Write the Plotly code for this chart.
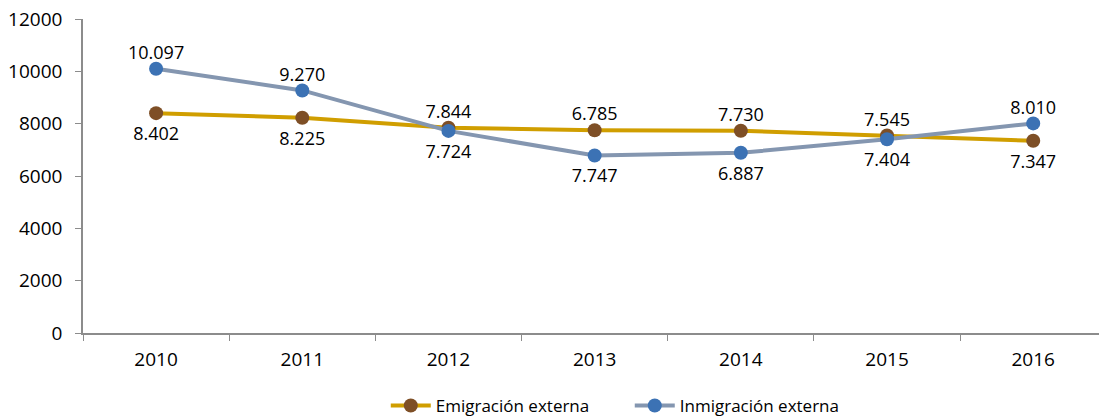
import plotly.graph_objects as go

years = ["2010", "2011", "2012", "2013", "2014", "2015", "2016"]
emigracion = [8402, 8225, 7844, 7747, 7730, 7545, 7347]
inmigracion = [10097, 9270, 7724, 6785, 6887, 7404, 8010]
upper_labels = ["10.097", "9.270", "7.844", "6.785", "7.730", "7.545", "8.010"]
lower_labels = ["8.402", "8.225", "7.724", "7.747", "6.887", "7.404", "7.347"]
y_ticks = [0, 2000, 4000, 6000, 8000, 10000, 12000]
y_ticktext = ["0", "2000", "4000", "6000", "8000", "10000", "12000"]

FONT = "Open Sans"
AXIS_COLOR = "#8c8c8c"

fig = go.Figure()
fig.add_trace(go.Scatter(
    x=years, y=emigracion, name="Emigración externa", mode="lines+markers",
    line=dict(color="#D09E00", width=4),
    marker=dict(color="#7E4F26", size=14),
))
fig.add_trace(go.Scatter(
    x=years, y=inmigracion, name="Inmigración externa", mode="lines+markers",
    line=dict(color="#8496B0", width=4),
    marker=dict(color="#3C72B4", size=14),
))
upper_y = [max(a, b) for a, b in zip(emigracion, inmigracion)]
lower_y = [min(a, b) for a, b in zip(emigracion, inmigracion)]
fig.add_trace(go.Scatter(
    x=years, y=upper_y, text=upper_labels, mode="markers+text", textposition="top center",
    marker=dict(size=7, opacity=0),
    textfont=dict(family=FONT, size=18, color="#000000"), showlegend=False, hoverinfo="skip",
    cliponaxis=False,
))
fig.add_trace(go.Scatter(
    x=years, y=lower_y, text=lower_labels, mode="markers+text", textposition="bottom center",
    marker=dict(size=20, opacity=0),
    textfont=dict(family=FONT, size=18, color="#000000"), showlegend=False, hoverinfo="skip",
    cliponaxis=False,
))

fig.update_layout(
    width=1099, height=417,
    margin=dict(l=83, r=0, t=19, b=84, autoexpand=False),
    paper_bgcolor="white", plot_bgcolor="white",
    font=dict(family=FONT, size=17, color="#000000"),
    legend=dict(orientation="h", x=0.298, xanchor="left", y=-0.2325, yanchor="middle",
                font=dict(family=FONT, size=17), itemwidth=40,
                entrywidth=189, entrywidthmode="pixels"),
    xaxis=dict(type="category", range=[-0.5, 6.45], showline=True, linecolor=AXIS_COLOR,
               linewidth=1.5, ticks="outside", tickson="boundaries", ticklen=6,
               tickcolor=AXIS_COLOR, showgrid=False, zeroline=False, automargin=False,
               ticklabelstandoff=8, tickfont=dict(family=FONT, size=19)),
    yaxis=dict(range=[0, 12000], tickvals=y_ticks, ticktext=y_ticktext, showline=True,
               linecolor=AXIS_COLOR, linewidth=1.5, ticks="outside", ticklen=6,
               tickcolor=AXIS_COLOR, showgrid=False, zeroline=False, automargin=False,
               ticklabelstandoff=9, tickfont=dict(family=FONT, size=19)),
)

fig.write_html("out.html", config={"displayModeBar": False},
               post_script="document.body.style.margin='0';")
